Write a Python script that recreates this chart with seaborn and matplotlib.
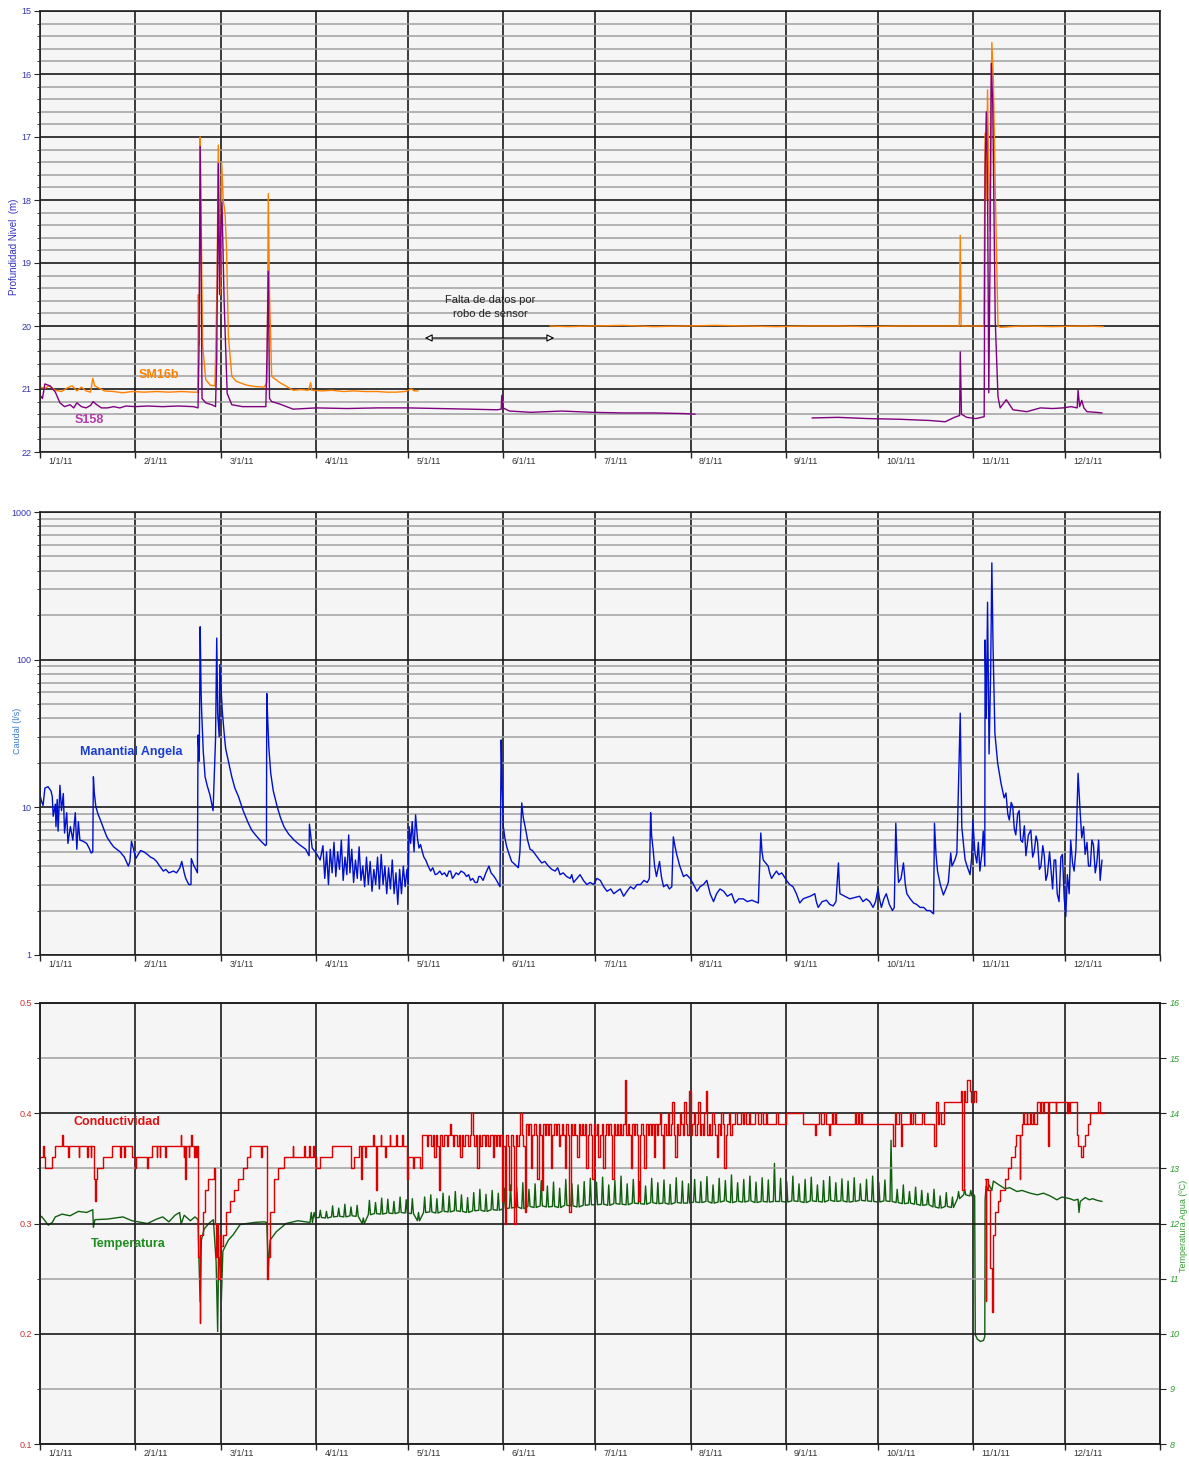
import numpy as np
import pandas as pd
import matplotlib
matplotlib.use('Agg')
import matplotlib.pyplot as plt
import matplotlib.ticker as mticker
import seaborn as sns

# ---------------- data (x = day of 2011, 0 = 1 Jan) ----------------
month_days = [0, 31, 59, 90, 120, 151, 181, 212, 243, 273, 304, 334]
month_labels = ['1/1/11', '2/1/11', '3/1/11', '4/1/11', '5/1/11', '6/1/11',
                '7/1/11', '8/1/11', '9/1/11', '10/1/11', '11/1/11', '12/1/11']

# depth to water level (m), well SM16b
sm16b_a = [(0, 20.97), (1.5, 20.99), (3, 20.95), (5, 21.02), (7, 21.04), (9, 20.98), (10.5, 20.95),
           (12, 21.03), (13.5, 20.97), (15, 21.03), (16.5, 21.05), (17.2, 20.83), (17.8, 20.95),
           (19, 20.98), (21, 21.03), (24, 21.04), (27, 21.06), (30, 21.04), (34, 21.05), (38, 21.04),
           (42, 21.05), (46, 21.04), (50, 21.05), (51.4, 21.05), (51.6, 19.5), (51.9, 20.3), (52.2, 17.0),
           (52.5, 18.2), (53.0, 20.3), (54.0, 20.85), (55.5, 20.94), (57.0, 20.95), (57.3, 20.3),
           (57.7, 19.3), (58.1, 17.13), (58.5, 18.6), (58.8, 19.5), (59.2, 17.4), (59.7, 18.0),
           (60.3, 18.2), (60.8, 18.8), (61.4, 20.17), (62.0, 20.5), (62.5, 20.8), (64, 20.88),
           (67.4, 20.94), (70, 20.96), (73, 20.97), (74.0, 20.9), (74.4, 17.9), (74.8, 19.5),
           (75.5, 20.8), (78.2, 20.9), (82.5, 21.02), (85, 21.01), (87.5, 21.02), (88.2, 20.9),
           (88.6, 21.02), (92, 21.03), (95, 21.02), (99, 21.04), (102, 21.03), (106, 21.04),
           (110, 21.04), (113, 21.05), (116, 21.05), (119, 21.04), (121, 21.0), (122, 21.03), (123.2, 21.03)]
sm16b_b = [(166.2, 20.0), (172, 20.01), (180, 20.0), (190, 19.99), (200, 20.01), (210, 20.0),
           (220, 19.99), (230, 20.0), (240, 20.01), (250, 20.0), (260, 20.0), (270, 20.01),
           (280, 20.0), (290, 20.0), (299.6, 20.0), (299.9, 18.56), (300.2, 20.0), (307.6, 20.0),
           (308.0, 16.94), (308.4, 18.0), (308.8, 16.25), (309.2, 17.6), (309.6, 18.5), (310.2, 15.5),
           (310.7, 16.1), (311.3, 17.8), (312.2, 20.0), (313, 20.02), (320, 20.0), (330, 20.01),
           (340, 20.0), (346.5, 20.01)]

# depth to water level (m), well S158
s158_a = [(0, 21.1), (0.8, 21.15), (1.6, 20.92), (3.3, 20.95), (5, 21.05), (6.5, 21.22), (8, 21.28),
          (9.8, 21.25), (11, 21.3), (12, 21.22), (13.5, 21.28), (15, 21.3), (16.5, 21.26), (17.3, 21.2),
          (18.5, 21.25), (20, 21.3), (22, 21.3), (24, 21.28), (26, 21.3), (28, 21.27), (31, 21.28),
          (35, 21.27), (40, 21.28), (45, 21.27), (50, 21.28), (51.5, 21.3), (51.8, 20.4), (52.2, 17.15),
          (52.5, 19.0), (52.8, 21.15), (54, 21.22), (56, 21.25), (57.2, 21.28), (57.6, 20.5),
          (58.1, 17.42), (58.5, 19.5), (58.8, 18.6), (59.3, 18.03), (60.0, 19.6), (61.0, 21.07),
          (62.5, 21.25), (66, 21.28), (70, 21.28), (73.6, 21.28), (74.0, 20.4), (74.4, 19.13),
          (74.8, 21.15), (75.5, 21.2), (78.2, 21.24), (82.5, 21.32), (90, 21.3), (100, 21.31),
          (110, 21.3), (120, 21.3), (130, 21.31), (140, 21.32), (149, 21.33), (150.3, 21.32),
          (150.5, 21.1), (150.9, 21.3), (153, 21.35), (160, 21.37), (170, 21.35), (175, 21.36),
          (180, 21.37), (190, 21.38), (200, 21.38), (210, 21.39), (213.5, 21.4)]
s158_b = [(251.6, 21.46), (260, 21.45), (270, 21.47), (280, 21.48), (290, 21.5), (295, 21.52),
          (298, 21.45), (299.7, 21.42), (299.9, 20.41), (300.3, 21.4), (302, 21.45), (305, 21.47),
          (307.7, 21.44), (308.0, 17.5), (308.4, 16.6), (308.8, 17.8), (309.2, 21.06), (309.6, 19.0),
          (310.0, 15.83), (310.5, 16.5), (311.3, 19.9), (312.2, 21.12), (312.9, 21.3), (314.9, 21.17),
          (316, 21.25), (317.1, 21.33), (321.6, 21.36), (326, 21.3), (330, 21.31), (333.4, 21.3),
          (336, 21.28), (338.0, 21.3), (338.3, 21.02), (338.8, 21.28), (339.5, 21.18), (340.2, 21.3),
          (341.2, 21.36), (344, 21.37), (346.1, 21.38)]

# spring discharge (l/s), Manantial Angela
caudal = [(0, 12.1), (0.5, 11.0), (1.0, 10.3), (1.6, 13.5), (2.6, 13.8), (3.6, 12.9), (4.0, 11.8),
          (4.3, 8.7), (5.0, 10.5), (5.2, 7.4), (5.6, 11.3), (5.9, 6.9), (6.5, 14.1), (7.0, 9.5),
          (7.6, 12.4), (8.0, 6.7), (8.7, 9.2), (9.1, 5.7), (9.9, 7.4), (10.7, 6.0), (11.5, 9.2),
          (12.0, 5.2), (12.5, 8.0), (13.0, 6.0), (14.0, 5.9), (15.2, 5.7), (16.0, 5.3), (16.7, 4.9),
          (17.2, 5.0), (17.4, 16.1), (17.7, 12.5), (18.2, 10.1), (18.9, 9.0), (19.6, 8.3), (20.7, 7.2),
          (21.8, 6.3), (22.9, 5.8), (24.0, 5.4), (25.0, 5.2), (26.1, 5.0), (27.5, 4.6), (28.8, 4.0),
          (29.3, 4.3), (29.8, 5.9), (30.5, 5.2), (31.2, 4.5), (32.0, 4.8), (32.8, 5.1), (33.8, 5.0),
          (35.0, 4.8), (36.0, 4.6), (37.0, 4.5), (38.0, 4.3), (39.0, 4.0), (40.2, 3.7), (41.0, 3.8),
          (42.0, 3.6), (43.5, 3.7), (44.5, 3.6), (45.6, 3.9), (46.2, 4.3), (47.0, 3.6), (47.5, 3.3),
          (48.5, 3.0), (49.2, 3.0), (49.3, 4.5), (50.2, 4.0), (50.8, 3.8), (51.3, 3.6), (51.5, 30.9),
          (51.9, 20.5), (52.2, 167), (52.5, 60), (52.7, 43.5), (53.2, 24), (53.8, 16.1), (54.5, 14),
          (55.4, 12.1), (56.4, 9.5), (56.9, 18.8), (57.2, 28.6), (57.6, 140), (57.9, 43.5),
          (58.4, 30), (58.6, 92.5), (59.4, 45), (60.0, 32), (60.5, 25), (61.5, 20), (62.5, 16.1),
          (63.5, 13.5), (64.7, 11.8), (66.2, 9.5), (67.9, 7.8), (69.0, 7.0), (70.5, 6.4), (72.0, 5.9),
          (73.5, 5.5), (73.8, 5.6), (73.9, 59), (74.2, 40), (74.6, 25), (75.2, 17.0), (76.0, 13),
          (77.3, 10.1), (78.3, 8.6), (79.5, 7.4), (81.0, 6.6), (82.8, 6.0), (84.5, 5.6), (86.6, 5.2),
          (87.7, 4.7), (87.8, 7.7), (88.7, 5.3), (90.0, 4.9), (91.3, 4.4), (92.2, 5.5), (92.8, 3.3),
          (93.4, 5.0), (94.0, 3.0), (94.6, 5.2), (95.2, 3.6), (95.8, 5.8), (96.4, 3.4), (97.0, 5.0),
          (97.6, 3.8), (98.2, 6.0), (98.8, 3.2), (99.4, 4.6), (100.0, 3.5), (100.6, 6.5), (101.0, 3.6),
          (101.6, 5.2), (102.2, 3.1), (102.8, 4.4), (103.4, 3.3), (104.0, 5.4), (104.6, 3.2),
          (105.2, 4.0), (105.8, 2.9), (106.4, 4.6), (107.0, 3.0), (107.6, 4.3), (108.2, 2.7),
          (108.8, 3.8), (109.4, 3.0), (110.0, 4.6), (110.6, 2.8), (111.2, 4.8), (111.8, 3.0),
          (112.4, 4.0), (113.0, 2.6), (113.6, 3.9), (114.2, 2.8), (114.8, 4.4), (115.4, 2.6),
          (116.0, 3.6), (116.6, 2.2), (117.2, 3.8), (117.8, 2.6), (118.4, 4.0), (119.0, 2.9),
          (119.6, 3.8), (120.0, 3.0), (120.3, 7.4), (120.8, 5.7), (121.3, 8.0), (121.9, 5.0),
          (122.4, 8.9), (123.0, 6.2), (123.5, 5.3), (124.0, 5.6), (124.6, 5.0), (125.1, 4.6),
          (125.7, 4.4), (126.5, 4.0), (127.3, 3.7), (128.0, 3.9), (128.8, 3.5), (129.5, 3.55),
          (130.3, 3.7), (131.0, 3.5), (131.8, 3.6), (132.6, 3.4), (133.3, 3.7), (133.8, 3.7),
          (134.4, 3.3), (134.9, 3.4), (135.6, 3.6), (136.4, 3.5), (137.2, 3.7), (138.2, 3.6),
          (139.0, 3.4), (139.7, 3.5), (140.3, 3.2), (141.0, 3.3), (141.8, 3.1), (142.5, 3.1),
          (143.0, 3.4), (143.6, 3.4), (144.4, 3.2), (145.3, 3.6), (146.3, 4.0), (147.0, 3.6),
          (148.0, 3.4), (148.8, 3.2), (149.5, 3.0), (149.9, 2.9), (150.3, 28.6), (150.6, 14),
          (151.0, 7.4), (151.5, 6.2), (152.1, 5.4), (152.9, 4.8), (153.7, 4.3), (154.8, 4.1),
          (155.9, 3.9), (156.4, 5.0), (157.0, 10.7), (157.5, 8.5), (158.1, 7.4), (158.9, 6.0),
          (159.7, 5.2), (160.5, 5.1), (161.4, 4.8), (162.4, 4.5), (163.5, 4.2), (164.5, 4.3),
          (165.7, 4.0), (166.8, 3.8), (167.9, 3.7), (168.7, 3.9), (169.5, 3.5), (170.5, 3.6),
          (171.6, 3.4), (172.8, 3.3), (173.3, 3.5), (173.9, 3.1), (175.0, 3.3), (176.0, 3.5),
          (177.1, 3.2), (178.2, 3.0), (179.3, 3.1), (180.4, 3.0), (181.5, 3.3), (182.6, 3.2),
          (183.7, 2.9), (184.8, 2.7), (186.0, 2.8), (187.0, 2.6), (188.0, 2.7), (189.1, 2.8),
          (190.2, 2.5), (191.3, 2.7), (192.4, 2.9), (193.5, 2.8), (194.6, 3.0), (195.7, 3.0),
          (196.8, 3.2), (197.9, 3.1), (198.6, 3.3), (199.0, 9.2), (199.3, 6.5), (199.8, 5.2),
          (200.3, 4.0), (200.9, 3.4), (201.9, 4.3), (202.5, 3.4), (203.2, 2.9), (204.3, 3.0),
          (205.1, 2.8), (205.9, 2.9), (206.4, 6.3), (206.9, 5.5), (207.5, 4.8), (208.5, 4.0),
          (209.7, 3.4), (210.7, 3.5), (211.9, 3.3), (213.0, 3.0), (214.1, 2.7), (215.1, 2.9),
          (216.2, 3.0), (217.3, 3.2), (218.4, 2.6), (219.5, 2.3), (220.5, 2.6), (221.6, 2.8),
          (222.8, 2.7), (224.0, 2.5), (225.4, 2.6), (226.5, 2.25), (227.7, 2.4), (229.2, 2.4),
          (230.5, 2.3), (232.0, 2.35), (234.1, 2.25), (234.9, 6.7), (235.3, 5.0), (235.7, 4.4),
          (236.5, 4.2), (237.3, 4.0), (237.8, 3.6), (238.4, 3.3), (239.2, 3.5), (240.0, 3.7),
          (240.8, 3.5), (241.7, 3.6), (242.5, 3.4), (243.3, 3.2), (244.3, 3.0), (245.4, 2.9),
          (246.5, 2.6), (247.6, 2.25), (248.7, 2.4), (249.8, 2.45), (251.0, 2.5), (252.5, 2.6),
          (253.0, 2.3), (253.6, 2.1), (254.9, 2.3), (256.3, 2.35), (257.4, 2.2), (258.5, 2.15),
          (259.4, 2.3), (260.2, 4.2), (260.5, 3.0), (260.7, 2.6), (262.3, 2.5), (263.9, 2.4),
          (265.5, 2.45), (267.1, 2.5), (268.2, 2.3), (269.3, 2.4), (270.4, 2.3), (271.5, 2.1),
          (272.3, 2.3), (273.1, 2.8), (273.6, 2.4), (274.2, 2.1), (275.0, 2.4), (275.8, 2.6),
          (276.8, 2.2), (277.8, 2.0), (278.4, 2.1), (278.9, 7.8), (279.3, 4.5), (279.8, 3.1),
          (280.6, 3.3), (281.4, 4.2), (282.0, 3.0), (282.5, 2.6), (283.6, 2.4), (284.7, 2.25),
          (285.7, 2.2), (286.8, 2.1), (288.0, 2.1), (289.0, 2.0), (290.0, 2.0), (291.2, 1.9),
          (291.5, 7.8), (292.0, 4.8), (292.5, 3.7), (293.4, 3.0), (294.4, 2.55), (295.2, 2.8),
          (296.0, 3.1), (296.8, 4.9), (297.2, 4.0), (297.7, 4.2), (298.3, 4.5), (298.8, 4.9),
          (299.9, 43.4), (300.2, 15), (300.4, 7.4), (301.0, 5.5), (301.5, 4.4), (302.3, 3.9),
          (303.1, 3.5), (303.6, 4.5), (304.0, 8.2), (304.7, 4.9), (305.3, 4.2), (305.8, 5.8),
          (306.3, 3.7), (307.0, 5.0), (307.4, 6.9), (307.9, 4.0), (308.0, 136), (308.4, 40),
          (308.8, 245), (309.3, 23), (309.8, 80), (310.2, 452), (310.6, 120), (311.2, 31.6),
          (312.1, 19.9), (313.2, 14.5), (314.2, 11.6), (314.8, 12.5), (315.4, 9.0), (315.9, 8.2),
          (316.5, 10.8), (317.0, 10.2), (317.5, 7.2), (318.0, 6.5), (318.6, 9.0), (319.1, 9.5),
          (319.6, 6.0), (320.2, 5.8), (320.8, 7.5), (321.3, 4.7), (322.1, 6.5), (322.9, 7.0),
          (323.5, 4.6), (324.0, 5.0), (324.6, 6.4), (325.1, 5.8), (325.7, 3.8), (326.2, 4.0),
          (326.8, 5.5), (327.3, 4.7), (327.8, 3.2), (328.3, 3.5), (329.0, 5.0), (330.0, 2.8),
          (330.5, 4.4), (331.0, 4.4), (331.5, 2.6), (332.1, 2.3), (332.7, 4.6), (333.2, 4.8),
          (333.8, 2.4), (334.3, 1.82), (334.8, 3.5), (335.4, 2.6), (335.9, 6.0), (336.5, 4.2),
          (337.0, 3.7), (337.6, 5.2), (338.3, 17.0), (339.0, 9.1), (339.5, 6.2), (340.1, 7.4),
          (340.6, 4.8), (341.2, 5.8), (341.7, 4.0), (342.3, 4.0), (342.8, 6.0), (343.3, 5.6),
          (343.9, 3.6), (344.4, 4.2), (345.0, 6.0), (345.5, 3.2), (346.1, 4.4)]

# conductivity (step record), Jan - early May
cond_a = [(0, 0.36), (1.0, 0.37), (1.2, 0.36), (1.6, 0.35), (3.9, 0.36), (5.0, 0.37), (7.3, 0.38),
          (7.5, 0.37), (9.2, 0.36), (9.4, 0.37), (12.6, 0.36), (12.8, 0.37), (15.3, 0.36), (15.5, 0.37),
          (16.5, 0.36), (16.7, 0.37), (17.6, 0.34), (17.9, 0.32), (18.2, 0.34), (18.6, 0.35),
          (20.6, 0.36), (23.4, 0.37), (26.0, 0.36), (26.3, 0.37), (27.5, 0.36), (27.8, 0.37),
          (30.0, 0.36), (31.0, 0.35), (31.3, 0.36), (34.8, 0.35), (35.1, 0.36), (36.4, 0.37),
          (38.0, 0.36), (38.2, 0.37), (39.0, 0.36), (39.2, 0.37), (40.7, 0.36), (40.9, 0.37),
          (45.8, 0.38), (46.0, 0.37), (46.8, 0.36), (47.0, 0.37), (47.3, 0.34), (47.5, 0.37),
          (48.5, 0.36), (48.7, 0.37), (49.3, 0.38), (49.5, 0.37), (50.2, 0.36), (50.4, 0.37),
          (51.0, 0.36), (51.2, 0.37), (51.6, 0.27), (52.0, 0.21), (52.3, 0.29), (53.0, 0.31),
          (53.8, 0.33), (54.8, 0.34), (56.6, 0.35), (56.9, 0.30), (57.3, 0.27), (57.7, 0.30),
          (58.1, 0.25), (58.5, 0.29), (59.0, 0.28), (59.5, 0.29), (60.5, 0.31), (61.8, 0.32),
          (63.2, 0.33), (64.6, 0.34), (66.3, 0.35), (67.5, 0.36), (68.6, 0.37), (72.0, 0.36),
          (72.2, 0.37), (74.1, 0.25), (74.4, 0.27), (75.0, 0.31), (76.2, 0.34), (77.4, 0.35),
          (79.5, 0.36), (82.3, 0.37), (82.5, 0.36), (86.0, 0.37), (86.2, 0.36), (87.7, 0.37),
          (87.9, 0.36), (89.0, 0.37), (89.2, 0.36), (90.0, 0.35), (91.2, 0.36), (95.0, 0.37),
          (101.5, 0.35), (102.3, 0.36), (104.0, 0.37), (104.6, 0.34), (104.8, 0.37), (106.0, 0.36),
          (106.2, 0.37), (108.5, 0.38), (108.7, 0.37), (109.6, 0.33), (109.8, 0.37), (111.0, 0.38),
          (111.2, 0.37), (112.5, 0.36), (112.7, 0.37), (114.0, 0.38), (114.2, 0.37), (116.0, 0.38),
          (116.2, 0.37), (118.0, 0.38), (118.3, 0.37), (119.6, 0.34), (119.9, 0.36), (121.5, 0.35),
          (122.0, 0.36), (124.0, 0.35), (124.5, 0.38)]
# conductivity every half day from day 125.5 to 305 (hundredths)
cond_mid_start = 125.5
cond_mid = [38, 37, 38, 38, 37, 38, 36, 38, 37, 33, 38, 37, 38, 38, 37, 38, 39, 38, 37, 38,
            38, 37, 38, 36, 38, 37, 38, 38, 37, 38, 40, 38, 37, 38, 35, 38, 37, 38, 38, 37,
            38, 37, 38, 38, 36, 38, 37, 38, 37, 38, 32, 37, 30, 38, 37, 33, 38, 37, 30, 38,
            37, 38, 40, 38, 37, 31, 39, 38, 39, 35, 38, 39, 38, 34, 39, 38, 33, 39, 38, 39,
            38, 39, 35, 38, 39, 38, 39, 37, 38, 39, 38, 35, 39, 38, 31, 39, 38, 39, 38, 36,
            39, 38, 39, 38, 39, 35, 38, 39, 38, 34, 39, 38, 39, 36, 38, 39, 35, 38, 39, 38,
            39, 38, 34, 39, 38, 39, 38, 39, 38, 39, 43, 38, 39, 38, 35, 39, 38, 39, 38, 32,
            38, 39, 38, 35, 39, 38, 39, 38, 39, 36, 39, 38, 39, 40, 38, 35, 39, 38, 40, 38,
            39, 41, 38, 36, 39, 38, 40, 39, 38, 41, 39, 38, 42, 38, 39, 40, 38, 39, 41, 38,
            39, 38, 40, 42, 38, 39, 38, 40, 39, 38, 36, 39, 38, 40, 39, 35, 38, 39, 40, 38,
            39, 39, 40, 39, 39, 39, 40, 39, 40, 39, 39, 40, 39, 39, 39, 40, 40, 39, 39, 40,
            39, 39, 40, 39, 39, 39, 39, 39, 39, 40, 39, 39, 39, 39, 39, 40, 40, 40, 40, 40,
            40, 40, 40, 40, 40, 40, 39, 39, 39, 39, 39, 39, 39, 39, 38, 39, 39, 40, 39, 39,
            40, 39, 39, 38, 39, 40, 39, 40, 39, 39, 39, 39, 39, 39, 39, 39, 39, 39, 39, 39,
            40, 39, 40, 39, 40, 39, 39, 39, 39, 39, 39, 39, 39, 39, 39, 39, 39, 39, 39, 39,
            39, 39, 39, 39, 39, 37, 40, 39, 39, 40, 37, 39, 39, 39, 39, 39, 40, 39, 40, 39,
            39, 39, 39, 39, 40, 39, 39, 39, 39, 39, 39, 39, 37, 41, 39, 40, 39, 39, 41, 41,
            41, 41, 41, 41, 41, 41, 41, 41, 41, 42, 33, 42, 41, 43, 43, 42, 41, 41, 42, 41]
cond_c = [(308.0, 0.34), (308.2, 0.23), (308.4, 0.34), (309.0, 0.33), (309.6, 0.26), (310.1, 0.22),
          (310.6, 0.29), (311.2, 0.31), (312.3, 0.32), (312.9, 0.33), (314.4, 0.34), (315.5, 0.35),
          (316.6, 0.36), (317.6, 0.37), (318.2, 0.38), (319.3, 0.34), (319.5, 0.38), (319.9, 0.39),
          (320.5, 0.40), (320.8, 0.39), (321.5, 0.40), (321.8, 0.39), (322.6, 0.40), (322.9, 0.39),
          (323.7, 0.40), (324.0, 0.39), (324.8, 0.41), (325.8, 0.40), (326.1, 0.41), (327.0, 0.40),
          (327.2, 0.41), (328.4, 0.37), (328.7, 0.41), (331.0, 0.40), (331.2, 0.41), (334.8, 0.40),
          (335.1, 0.41), (335.5, 0.40), (335.8, 0.41), (337.9, 0.38), (338.3, 0.37), (339.1, 0.36),
          (339.9, 0.37), (340.5, 0.38), (341.6, 0.39), (342.1, 0.40), (344.8, 0.41), (345.6, 0.40),
          (346.6, 0.40)]

# water temperature (C)
temp_a = [(0, 12.1), (0.5, 12.13), (2.7, 11.97), (4, 12.02), (5.0, 12.12), (7.2, 12.17), (9.8, 12.14),
          (12.5, 12.22), (15.2, 12.2), (17.2, 12.25), (17.4, 11.93), (17.9, 12.07), (22, 12.08),
          (27, 12.12), (30, 12.05), (35, 12.0), (38, 12.08), (40, 12.12), (42, 12.03), (44, 12.15),
          (45.5, 12.2), (46, 11.99), (47, 12.15), (49, 12.05), (50.5, 12.12), (51.5, 12.07),
          (51.8, 11.34), (52.2, 10.58), (52.6, 11.7), (53.5, 11.9), (55.0, 12.0), (56.5, 12.07),
          (57.4, 11.3), (57.9, 10.04), (58.2, 11.4), (58.6, 11.3), (59.1, 10.6), (59.6, 11.5),
          (61.4, 11.7), (63, 11.8), (65.2, 11.98), (67.4, 12.0), (70, 12.02), (73, 12.03),
          (73.9, 12.02), (74.4, 11.19), (75.0, 11.7), (77.0, 11.85), (80.2, 12.0), (84, 12.05),
          (88, 12.02), (88.4, 12.2), (88.8, 12.02)]
# daily cycle low / high, every 2 days from day 89
temp_osc_start = 89
temp_osc_low = [12.10, 12.11, 12.10,
                12.12, 12.13, 12.12, 12.14, 12.13,
                12.00,
                12.16, 12.18, 12.17, 12.19, 12.18, 12.20, 12.19, 12.18,
                12.05,
                12.20, 12.21, 12.19, 12.22, 12.21, 12.23, 12.22, 12.20, 12.23, 12.24, 12.22, 12.25, 12.24,
                12.27,
                12.28, 12.30, 12.27, 12.31, 12.29, 12.32, 12.30, 12.31, 12.29, 12.33, 12.32, 12.30, 12.33, 12.34,
                12.34, 12.35, 12.33, 12.36, 12.35, 12.34, 12.37, 12.36, 12.35, 12.38, 12.36, 12.37, 12.35, 12.38, 12.37,
                12.37, 12.39, 12.38, 12.40, 12.37, 12.39, 12.41, 12.38, 12.40, 12.39, 12.41, 12.38, 12.40, 12.39,
                12.40,
                12.40, 12.39, 12.41, 12.40, 12.38, 12.41, 12.40, 12.39, 12.42, 12.40, 12.41, 12.39, 12.40, 12.42,
                12.41, 12.40, 12.39, 12.41,
                12.40,
                12.38, 12.36, 12.37, 12.35, 12.33, 12.34, 12.30, 12.28, 12.31, 12.29,
                12.45, 12.52, 12.50]
temp_osc_high = [12.20, 12.24, 12.22,
                 12.32, 12.28, 12.35, 12.30, 12.33,
                 12.10,
                 12.42, 12.38, 12.46, 12.44, 12.40, 12.48, 12.43, 12.45,
                 12.20,
                 12.48, 12.52, 12.45, 12.55, 12.50, 12.58, 12.52, 12.47, 12.56, 12.62, 12.53, 12.60, 12.55,
                 12.64,
                 12.70, 12.66, 12.74, 12.62, 12.72, 12.78, 12.68, 12.75, 12.64, 12.80, 12.72, 12.70, 12.76, 12.82,
                 12.75, 12.84, 12.70, 12.78, 12.86, 12.72, 12.80, 12.76, 12.68, 12.82, 12.74, 12.79, 12.71, 12.83, 12.77,
                 12.72, 12.80, 12.76, 12.85, 12.70, 12.82, 12.78, 12.88, 12.74, 12.80, 12.86, 12.75, 12.83, 12.79,
                 13.09,
                 12.82, 12.76, 12.86, 12.72, 12.80, 12.84, 12.70, 12.78, 12.85, 12.74, 12.81, 12.77, 12.83, 12.72,
                 12.80, 12.86, 12.75, 12.79,
                 13.51,
                 12.62, 12.70, 12.58, 12.66, 12.60, 12.55, 12.62, 12.50, 12.56, 12.48,
                 12.58, 12.62, 12.60]
temp_c = [(304.0, 12.55), (304.6, 12.5), (304.8, 9.98), (305.5, 9.90), (306.5, 9.86), (307.5, 9.88),
          (307.9, 9.95), (308.0, 12.43), (308.3, 12.67), (308.7, 12.6), (309.3, 12.7), (310.2, 12.6),
          (310.7, 12.77), (312, 12.72), (314.5, 12.63), (316, 12.65), (318.4, 12.58), (320, 12.6),
          (322.7, 12.55), (325, 12.52), (327, 12.55), (329.2, 12.5), (331.4, 12.43), (333, 12.48),
          (335.7, 12.45), (337, 12.42), (338.3, 12.44), (338.6, 12.2), (339.0, 12.4), (340.6, 12.47),
          (342, 12.43), (343, 12.45), (344.5, 12.42), (346.1, 12.4)]


def frame(*segments):
    rows = []
    for k, seg in enumerate(segments):
        for d, v in seg:
            rows.append((k, d, v))
    return pd.DataFrame(rows, columns=['seg', 'day', 'val'])


temp_osc = []
for i, (lo, hi) in enumerate(zip(temp_osc_low, temp_osc_high)):
    d = temp_osc_start + 2 * i
    temp_osc += [(d, lo), (d + 0.35, hi), (d + 0.7, lo)]
cond_mid_pairs = [(cond_mid_start + 0.5 * i, v / 100) for i, v in enumerate(cond_mid)]

df_sm16b = frame(sm16b_a, sm16b_b)
df_s158 = frame(s158_a, s158_b)
df_caudal = frame(caudal)
df_cond = frame(cond_a + cond_mid_pairs, cond_c)
df_temp = frame(temp_a + temp_osc + temp_c)

# ---------------- style ----------------
sns.set_style('ticks', {'axes.facecolor': '#f5f5f5'})
plt.rcParams['font.family'] = ['Liberation Sans', 'DejaVu Sans']

fig = plt.figure(figsize=(11.89, 14.61), dpi=100)
L, W = 40 / 1189, 1120 / 1189
ax1 = fig.add_axes([L, 1 - 452 / 1461, W, 441 / 1461])
ax2 = fig.add_axes([L, 1 - 955 / 1461, W, 443 / 1461])
ax3 = fig.add_axes([L, 1 - 1444 / 1461, W, 441 / 1461])
ax3r = ax3.twinx()


def style_axis(ax, tick_color):
    ax.set_axisbelow(True)
    ax.set_xlim(0, 365)
    ax.set_xticks(month_days + [365])
    ax.tick_params(axis='x', length=4, width=1, labelbottom=False, color='#222')
    ax.grid(which='major', axis='x', color='#3a3a3a', lw=1.4)
    ax.grid(which='major', axis='y', color='#1a1a1a', lw=1.2)
    ax.grid(which='minor', axis='y', color='#a0a0a0', lw=1.1)
    ax.tick_params(axis='y', which='major', length=4, labelsize=6.5, labelcolor=tick_color, pad=2)
    ax.tick_params(axis='y', which='minor', length=2.5)
    for s in ax.spines.values():
        s.set_color('#222')
        s.set_linewidth(1.2)
    for d, lab in zip(month_days, month_labels):
        ax.annotate(lab, xy=(d, 0), xycoords=('data', 'axes fraction'), xytext=(6, -3.5),
                    textcoords='offset points', ha='left', va='top', fontsize=6.5, color='#333333')
    ax.set_xlabel('')
    ax.set_ylabel('')


# ---------------- top: water depth ----------------
sns.lineplot(data=df_sm16b, x='day', y='val', units='seg', estimator=None, sort=False,
             color='#ff8000', lw=1.0, ax=ax1)
sns.lineplot(data=df_s158, x='day', y='val', units='seg', estimator=None, sort=False,
             color='#800080', lw=1.0, ax=ax1)
ax1.set_ylim(22, 15)
ax1.set_yticks(range(15, 23))
ax1.yaxis.set_minor_locator(mticker.MultipleLocator(0.2))
style_axis(ax1, '#3535b0')
ax1.text(38.8, 20.78, 'SM16b', color='#ff8000', fontsize=9, fontweight='bold', ha='center', va='center')
ax1.text(16.0, 21.49, 'S158', color='#b03cb0', fontsize=9, fontweight='bold', ha='center', va='center')
ax1.text(146.7, 19.7, 'Falta de datos por\nrobo de sensor', fontsize=8, color='#222222',
         ha='center', va='center', linespacing=1.45)
ax1.annotate('', xy=(168.5, 20.19), xytext=(124.5, 20.19),
             arrowprops=dict(arrowstyle='<|-|>', fc='white', ec='black', lw=0.8, mutation_scale=11))
fig.text(14 / 1189, 1 - 247 / 1461, 'Profundidad Nivel  (m)', rotation=90, fontsize=7,
         color='#3030c0', ha='center', va='center')

# ---------------- middle: discharge ----------------
sns.lineplot(data=df_caudal, x='day', y='val', units='seg', estimator=None, sort=False,
             color='#0010cc', lw=1.0, ax=ax2)
ax2.set_yscale('log')
ax2.set_ylim(1, 1000)
ax2.set_yticks([1, 10, 100, 1000])
ax2.set_yticklabels(['1', '10', '100', '1000'])
ax2.yaxis.set_minor_locator(mticker.LogLocator(base=10, subs=np.arange(2, 10)))
ax2.yaxis.set_minor_formatter(mticker.NullFormatter())
style_axis(ax2, '#3535b0')
ax2.text(29.8, 23.7, 'Manantial Angela', color='#1a3fd0', fontsize=9, fontweight='bold',
         ha='center', va='center')
fig.text(18 / 1189, 1 - 731 / 1461, 'Caudal (l/s)', rotation=90, fontsize=6.5,
         color='#3a78d0', ha='center', va='center')

# ---------------- bottom: conductivity and temperature ----------------
sns.lineplot(data=df_temp, x='day', y='val', units='seg', estimator=None, sort=False,
             color='#0f5f0f', lw=1.0, ax=ax3r)
sns.lineplot(data=df_cond, x='day', y='val', units='seg', estimator=None, sort=False,
             color='#dd0000', lw=1.0, drawstyle='steps-post', ax=ax3)
ax3.set_zorder(ax3r.get_zorder() + 1)
ax3.patch.set_visible(False)
ax3r.patch.set_visible(True)
ax3r.patch.set_facecolor('#f5f5f5')
ax3.set_ylim(0.1, 0.5)
ax3.set_yticks([0.1, 0.2, 0.3, 0.4, 0.5])
ax3.set_yticklabels(['0.1', '0.2', '0.3', '0.4', '0.5'])
ax3.yaxis.set_minor_locator(mticker.MultipleLocator(0.05))
style_axis(ax3, '#cc3333')
ax3r.set_ylim(8, 16)
ax3r.set_yticks(range(8, 17))
ax3r.set_yticklabels([str(v) for v in range(8, 17)], fontstyle='italic')
ax3r.tick_params(axis='y', length=4, labelsize=6.5, labelcolor='#2e9e2e', pad=3, color='#222')
ax3r.grid(False)
ax3r.set_ylabel('')
ax3r.set_xlabel('')
for s in ax3r.spines.values():
    s.set_color('#222')
    s.set_linewidth(1.2)
ax3.text(25.1, 0.392, 'Conductividad', color='#dd1111', fontsize=9, fontweight='bold',
         ha='center', va='center')
ax3.text(28.7, 0.281, 'Temperatura', color='#1e8c1e', fontsize=9, fontweight='bold',
         ha='center', va='center')
fig.text(1183 / 1189, 1 - 1226 / 1461, 'Temperatura Agua (ºC)', rotation=90, fontsize=6.5,
         color='#3aa03a', ha='center', va='center')

fig.savefig('out.png', dpi=100, facecolor='white')
